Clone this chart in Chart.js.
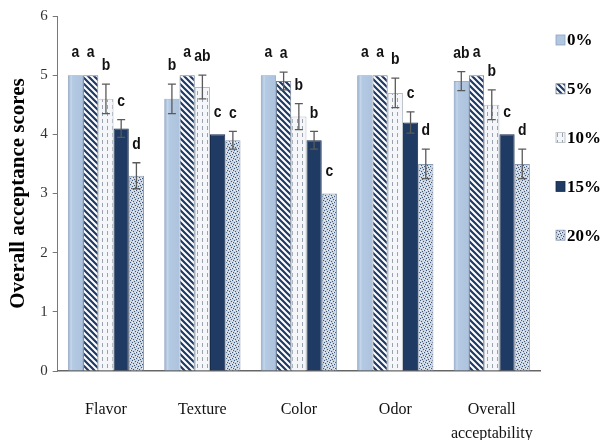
<!DOCTYPE html>
<html>
<head>
<meta charset="utf-8">
<script src="https://cdn.jsdelivr.net/npm/chart.js@4"></script>
<style>
  body { margin: 0; background: #fff; }
  #wrap { width: 610px; height: 440px; }
</style>
</head>
<body>
<div id="wrap"><canvas id="chart"></canvas></div>
<script>
// dados
const categorias = ['Flavor', 'Texture', 'Color', 'Odor', ['Overall', 'acceptability']];
const series = ['0%', '5%', '10%', '15%', '20%'];

const media0  = [5.0, 4.6, 5.0, 5.0, 4.9];
const media5  = [5.0, 5.0, 4.9, 5.0, 5.0];
const media10 = [4.6, 4.8, 4.3, 4.7, 4.5];
const media15 = [4.1, 4.0, 3.9, 4.2, 4.0];
const media20 = [3.3, 3.9, 3.0, 3.5, 3.5];

const erro0  = [0, 0.25, 0, 0, 0.16];
const erro5  = [0, 0, 0.15, 0, 0];
const erro10 = [0.25, 0.2, 0.22, 0.25, 0.25];
const erro15 = [0.15, 0, 0.15, 0.18, 0];
const erro20 = [0.22, 0.15, 0, 0.25, 0.25];

const letras0  = ['a', 'b', 'a', 'a', 'ab'];
const letras5  = ['a', 'a', 'a', 'a', 'a'];
const letras10 = ['b', 'ab', 'b', 'b', 'b'];
const letras15 = ['c', 'c', 'b', 'c', 'c'];
const letras20 = ['d', 'c', 'c', 'd', 'd'];

const yTicks = [0, 1, 2, 3, 4, 5, 6];

// padrões de preenchimento
function tile(w, h, draw) {
  const c = document.createElement('canvas');
  c.width = w; c.height = h;
  draw(c.getContext('2d'));
  return document.getElementById('chart').getContext('2d').createPattern(c, 'repeat');
}

const padraoListras = tile(6, 6, g => {
  g.fillStyle = '#ffffff'; g.fillRect(0, 0, 6, 6);
  g.strokeStyle = '#1f3a63'; g.lineWidth = 2.2;
  g.beginPath();
  g.moveTo(-1, -1); g.lineTo(7, 7);
  g.moveTo(-4, 2); g.lineTo(2, 8);
  g.moveTo(2, -4); g.lineTo(8, 2);
  g.stroke();
});

const padraoTracos = tile(5, 7, g => {
  g.fillStyle = '#f4f6f9'; g.fillRect(0, 0, 5, 7);
  g.fillStyle = '#9aa3ad'; g.fillRect(2, 0, 1, 4);
});

const padraoPontos = tile(6, 6, g => {
  g.fillStyle = '#c9d5e3'; g.fillRect(0, 0, 6, 6);
  g.fillStyle = '#3d5578';
  [[0,0],[3,1],[1,3],[4,4],[5,2],[2,5]].forEach(p => g.fillRect(p[0], p[1], 1, 1));
  g.fillStyle = '#eef2f7';
  [[1,1],[4,2],[0,4],[3,4]].forEach(p => g.fillRect(p[0], p[1], 1, 1));
});

const medias = [media0, media5, media10, media15, media20];
const erros  = [erro0, erro5, erro10, erro15, erro20];
const letras = [letras0, letras5, letras10, letras15, letras20];
const fundos = ['#b1c7e1', padraoListras, padraoTracos, '#1f3b63', padraoPontos];
const bordas = ['#8da2bd', '#6f7f95', '#b5bcc4', '#162b49', '#8a9ab0'];

// barras 0% com bisel, barras de erro, letras e legenda à direita
const pluginExtras = {
  id: 'extras',
  afterDatasetsDraw(chart) {
    const ctx = chart.ctx;
    const y = chart.scales.y;
    const m0 = chart.getDatasetMeta(0);
    m0.data.forEach(bar => {
      const x0 = bar.x - bar.width / 2, w = bar.width;
      const gr = ctx.createLinearGradient(x0, 0, x0 + w, 0);
      gr.addColorStop(0, '#94abc8');
      gr.addColorStop(0.22, '#c6d7ec');
      gr.addColorStop(0.32, '#b4c9e2');
      gr.addColorStop(1, '#adc3de');
      ctx.save();
      ctx.fillStyle = gr;
      ctx.fillRect(x0 + 0.5, bar.y + 0.5, w - 1, bar.base - bar.y - 1);
      ctx.restore();
    });
    ctx.save();
    ctx.strokeStyle = '#5a5a5a';
    ctx.lineWidth = 1.3;
    ctx.fillStyle = '#111';
    ctx.font = 'bold 17px "Liberation Sans", sans-serif';
    ctx.textAlign = 'center';
    ctx.textBaseline = 'bottom';
    medias.forEach((serie, di) => {
      const meta = chart.getDatasetMeta(di);
      meta.data.forEach((bar, i) => {
        const e = erros[di][i];
        let topo = bar.y - 14;
        if (e > 0) {
          const yt = y.getPixelForValue(serie[i] + e);
          const yb = y.getPixelForValue(serie[i] - e);
          ctx.beginPath();
          ctx.moveTo(bar.x, yt); ctx.lineTo(bar.x, yb);
          ctx.moveTo(bar.x - 4, yt); ctx.lineTo(bar.x + 4, yt);
          ctx.moveTo(bar.x - 4, yb); ctx.lineTo(bar.x + 4, yb);
          ctx.stroke();
          topo = yt - 10;
        }
        ctx.save();
        ctx.translate(bar.x, topo);
        ctx.scale(0.82, 1);
        ctx.fillText(letras[di][i], 0, 0);
        ctx.restore();
      });
    });
    ctx.restore();
  },
  afterDraw(chart) {
    const ctx = chart.ctx;
    const x0 = chart.chartArea.right + 16;
    ctx.save();
    ctx.font = 'bold 17px "Liberation Serif", serif';
    ctx.textBaseline = 'middle';
    chart.data.datasets.forEach((ds, i) => {
      const yy = 40 + i * 48.8;
      ctx.fillStyle = ds.backgroundColor;
      ctx.fillRect(x0, yy - 5, 9, 10);
      ctx.strokeStyle = ds.borderColor;
      ctx.lineWidth = 0.8;
      ctx.strokeRect(x0, yy - 5, 9, 10);
      ctx.fillStyle = '#000';
      ctx.fillText(ds.label, x0 + 11, yy + 1);
    });
    ctx.restore();
  }
};

new Chart(document.getElementById('chart'), {
  type: 'bar',
  data: {
    labels: categorias,
    datasets: series.map((s, i) => ({
      label: s,
      data: medias[i],
      backgroundColor: fundos[i],
      borderColor: bordas[i],
      borderWidth: 1,
      categoryPercentage: 0.79,
      barPercentage: 1.0
    }))
  },
  options: {
    responsive: true,
    maintainAspectRatio: false,
    animation: false,
    layout: { padding: { top: 16, right: 70, left: 6, bottom: -33 } },
    plugins: {
      tooltip: { enabled: false },
      legend: { display: false }
    },
    scales: {
      x: {
        grid: { drawOnChartArea: false, drawTicks: false },
        border: { color: '#666', width: 1.5 },
        ticks: {
          color: '#111',
          padding: 27,
          font: { family: '"Liberation Serif", serif', size: 16, lineHeight: 1.5 }
        }
      },
      y: {
        min: 0,
        max: 6,
        afterBuildTicks(axis) { axis.ticks = yTicks.map(v => ({ value: v })); },
        grid: { drawOnChartArea: false, drawTicks: true, tickLength: 5, color: '#777' },
        border: { color: '#777', width: 1 },
        ticks: {
          color: '#333',
          padding: 5,
          font: { family: '"Liberation Serif", serif', size: 15 }
        },
        title: {
          display: true,
          text: 'Overall acceptance scores',
          color: '#000',
          padding: { top: 0, bottom: 4 },
          font: { family: '"Liberation Serif", serif', size: 21, weight: 'bold' }
        }
      }
    }
  },
  plugins: [pluginExtras]
});
</script>
</body>
</html>
